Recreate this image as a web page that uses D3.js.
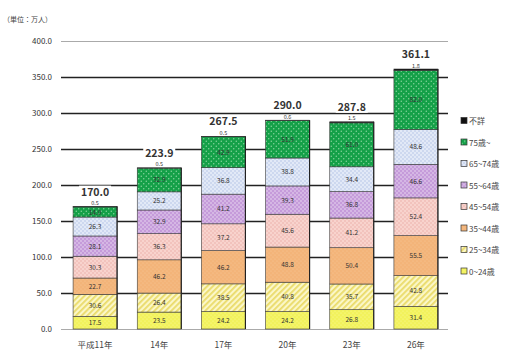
<!DOCTYPE html>
<html>
<head>
<meta charset="utf-8">
<script src="https://cdn.jsdelivr.net/npm/d3@7"></script>
<style>
  body { margin: 0; background: #fff; }
  text { font-family: "Noto Sans CJK JP", "Noto Sans", sans-serif; }
</style>
</head>
<body>
<div id="vis"></div>
<script>
// data (単位: 万人), segments from bottom to top
var years = ['平成11年', '14年', '17年', '20年', '23年', '26年'];
var groups = ['0~24歳', '25~34歳', '35~44歳', '45~54歳', '55~64歳', '65~74歳', '75歳~', '不詳'];
var age0_24  = [17.5, 23.5, 24.2, 24.2, 26.8, 31.4];
var age25_34 = [30.6, 26.4, 38.5, 40.8, 35.7, 42.8];
var age35_44 = [22.7, 46.2, 46.2, 48.8, 50.4, 55.5];
var age45_54 = [30.3, 36.3, 37.2, 45.6, 41.2, 52.4];
var age55_64 = [28.1, 32.9, 41.2, 39.3, 36.8, 46.6];
var age65_74 = [26.3, 25.2, 36.8, 38.8, 34.4, 48.6];
var age75    = [14.0, 32.9, 42.9, 51.9, 61.0, 82.0];
var unknown  = [0.5, 0.5, 0.5, 0.6, 1.5, 1.8];
var totals   = [170.0, 223.9, 267.5, 290.0, 287.8, 361.1];
var yTicks   = [0, 50, 100, 150, 200, 250, 300, 350, 400];

var series = [age0_24, age25_34, age35_44, age45_54, age55_64, age65_74, age75, unknown];

var width = 519, height = 351;
var svg = d3.select('#vis').append('svg')
            .attr('width', width)
            .attr('height', height);

// patterns
var defs = svg.append('defs');
var fills = ['p0', 'p1', 'p2', 'p3', 'p4', 'p5', 'p6', '#111'];

var dots = function(id, base, dot, r, s) {
    var p = defs.append('pattern').attr('id', id).attr('patternUnits', 'userSpaceOnUse')
                .attr('width', s).attr('height', s);
    p.append('rect').attr('width', s).attr('height', s).attr('fill', base);
    p.append('circle').attr('cx', s / 4).attr('cy', s / 4).attr('r', r).attr('fill', dot);
    p.append('circle').attr('cx', 3 * s / 4).attr('cy', 3 * s / 4).attr('r', r).attr('fill', dot);
};
dots('p0', '#f2f25c', '#fafa9a', 0.6, 4);
var hp = defs.append('pattern').attr('id', 'p1').attr('patternUnits', 'userSpaceOnUse')
             .attr('width', 4).attr('height', 4).attr('patternTransform', 'rotate(45)');
hp.append('rect').attr('width', 4).attr('height', 4).attr('fill', '#fbf7c8');
hp.append('rect').attr('width', 1.8).attr('height', 4).attr('fill', '#eadb6a');
dots('p2', '#f3b479', '#f7c898', 0.6, 4);
dots('p3', '#f8d3cd', '#e9a6a2', 0.7, 4);
dots('p4', '#c59bda', '#eadcf2', 0.8, 4);
dots('p5', '#e2e9f7', '#aabbe2', 0.7, 4);
dots('p6', '#14a048', '#8fd8a4', 0.7, 5);

var fillOf = (i) => i === 7 ? fills[i] : 'url(#' + fills[i] + ')';

var xScale = d3.scalePoint().domain(years).range([63, 448]).padding(0.5);
var yScale = d3.scaleLinear().domain([0, 400]).range([329, 41]);
var barW = 44;

// grid + y labels
var yAxis = d3.axisLeft(yScale)
              .tickValues(yTicks)
              .tickFormat(d3.format('.1f'))
              .tickSize(-(448 - 61))
              .tickPadding(9);
var yAxisG = svg.append('g')
                .attr('transform', 'translate(61,0)')
                .call(yAxis);
yAxisG.select('.domain').remove();
yAxisG.selectAll('line')
      .attr('stroke', (d) => (d === 400 || d === 0) ? '#aaa' : '#222')
      .attr('stroke-width', (d) => (d === 400 || d === 0) ? 1 : 1.3);
yAxisG.selectAll('text')
      .attr('font-size', 8)
      .attr('fill', '#333');

svg.append('text')
   .attr('x', 3).attr('y', 22)
   .attr('font-size', 7)
   .attr('fill', '#444')
   .text('（単位：万人）');

// stacked bars
var stack = years.map((y, j) => {
    var acc = 0;
    return series.map((s, i) => {
        var seg = {year: y, i: i, y0: acc, y1: acc + s[j], v: s[j]};
        acc += s[j];
        return seg;
    });
});

var g = svg.append('g');
var barG = g.selectAll('.bar')
            .data(stack)
            .enter()
            .append('g')
            .attr('class', 'bar');

barG.selectAll('rect')
    .data((d) => d)
    .enter()
    .append('rect')
    .attr('x', (d) => xScale(d.year) - barW / 2)
    .attr('width', barW)
    .attr('y', (d) => yScale(d.y1))
    .attr('height', (d) => yScale(d.y0) - yScale(d.y1))
    .attr('fill', (d) => fillOf(d.i))
    .attr('stroke', '#3a3a3a')
    .attr('stroke-width', 0.6);

// right edge dark line
barG.append('line')
    .attr('x1', (d) => xScale(d[0].year) + barW / 2)
    .attr('x2', (d) => xScale(d[0].year) + barW / 2)
    .attr('y1', yScale(0))
    .attr('y2', (d, j) => yScale(totals[j]))
    .attr('stroke', '#222')
    .attr('stroke-width', 1.2);

// segment value labels
barG.selectAll('.seg')
    .data((d) => d.slice(0, 7))
    .enter()
    .append('text')
    .attr('class', 'seg')
    .attr('x', (d) => xScale(d.year))
    .attr('y', (d) => (yScale(d.y0) + yScale(d.y1)) / 2 + 2.5)
    .attr('text-anchor', 'middle')
    .attr('font-size', 6.5)
    .attr('fill', '#333')
    .text((d) => d.v.toFixed(1));

// unknown labels
g.selectAll('.unk')
 .data(years)
 .enter()
 .append('text')
 .attr('x', (d) => xScale(d))
 .attr('y', (d, j) => yScale(totals[j]) - 1.5)
 .attr('text-anchor', 'middle')
 .attr('font-size', 5.5)
 .attr('fill', '#333')
 .text((d, j) => unknown[j].toFixed(1));

// totals with white box
var tot = g.selectAll('.tot')
           .data(years)
           .enter()
           .append('g');
tot.append('rect')
   .attr('x', (d) => xScale(d) - 16)
   .attr('y', (d, j) => yScale(totals[j]) - 21)
   .attr('width', 32)
   .attr('height', 12)
   .attr('fill', '#fff');
tot.append('text')
   .attr('x', (d) => xScale(d))
   .attr('y', (d, j) => yScale(totals[j]) - 11)
   .attr('text-anchor', 'middle')
   .attr('font-size', 10.5)
   .attr('font-weight', 'bold')
   .attr('fill', '#333')
   .text((d, j) => totals[j].toFixed(1));

// x labels
svg.selectAll('.xl')
   .data(years)
   .enter()
   .append('text')
   .attr('x', (d) => xScale(d))
   .attr('y', 348)
   .attr('text-anchor', 'middle')
   .attr('font-size', 8.5)
   .attr('fill', '#444')
   .text((d) => d);

// legend (top item = 不詳)
var legendOrder = d3.range(groups.length).reverse();
var leg = svg.selectAll('.leg')
             .data(legendOrder)
             .enter()
             .append('g')
             .attr('transform', (d, k) => 'translate(461,' + (121 + k * 21.5) + ')');
leg.append('rect')
   .attr('x', 0).attr('y', -3.5)
   .attr('width', 6).attr('height', 6)
   .attr('fill', (d) => fillOf(d))
   .attr('stroke', '#333')
   .attr('stroke-width', 0.7);
leg.append('text')
   .attr('x', 8).attr('y', 3)
   .attr('font-size', 8)
   .attr('fill', '#444')
   .text((d) => groups[d]);
</script>
</body>
</html>
